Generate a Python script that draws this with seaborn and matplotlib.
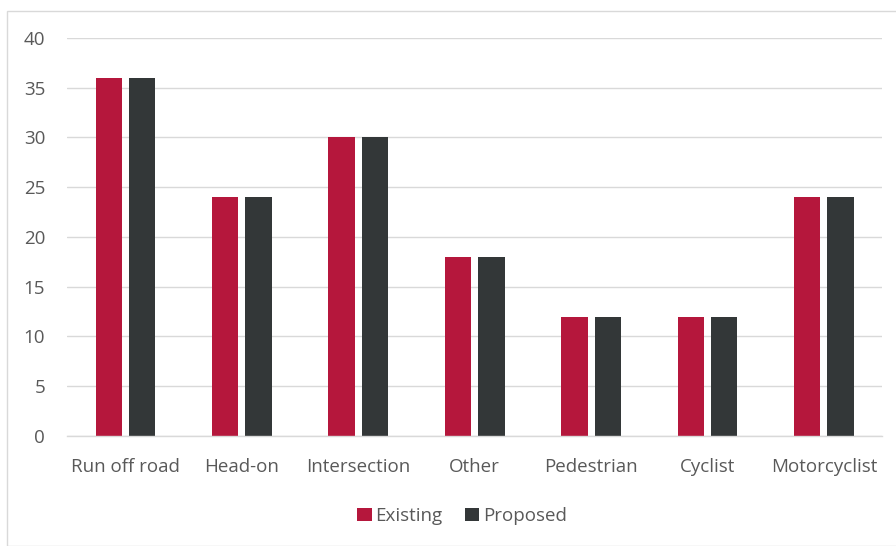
import matplotlib
matplotlib.use("Agg")
import matplotlib.pyplot as plt
import seaborn as sns
import pandas as pd
from matplotlib.patches import Rectangle

categories = ["Run off road", "Head-on", "Intersection", "Other", "Pedestrian", "Cyclist", "Motorcyclist"]
existing = [36, 24, 30, 18, 12, 12, 24]
proposed = [36, 24, 30, 18, 12, 12, 24]
series_names = ["Existing", "Proposed"]
yticks = [0, 5, 10, 15, 20, 25, 30, 35, 40]

df = pd.DataFrame({
    "category": categories * 2,
    "value": existing + proposed,
    "series": [series_names[0]] * len(categories) + [series_names[1]] * len(categories),
})

sns.set_theme(style="white")
plt.rcParams['font.family'] = ['Open Sans', 'DejaVu Sans']

fig = plt.figure(figsize=(8.96, 5.46), dpi=100)
ax = fig.add_axes([0.0752, 0.2015, 0.9092, 0.7289])

palette = {"Existing": "#B5173C", "Proposed": "#333738"}
sns.barplot(data=df, x="category", y="value", hue="series", palette=palette,
            width=0.574, gap=0.21, ax=ax, saturation=1, linewidth=0, legend=True)

ax.set_ylim(0, 40)
ax.set_xlim(-0.5, len(categories) - 0.5)
ax.set_yticks(yticks)
ax.yaxis.grid(True, color="#d9d9d9", linewidth=1)
ax.set_axisbelow(True)
for s in ["top", "right", "left"]:
    ax.spines[s].set_visible(False)
ax.spines["bottom"].set_color("#d9d9d9")
ax.spines["bottom"].set_linewidth(1)
ax.set_xlabel("")
ax.set_ylabel("")
ax.tick_params(axis="y", length=0, pad=16, labelsize=13.5, labelcolor="#595959")
ax.tick_params(axis="x", length=0, pad=16, labelsize=13.5, labelcolor="#595959")

handles, labels = ax.get_legend_handles_labels()
ax.legend(handles, labels, loc="center", bbox_to_anchor=(462 / 896, 1 - 516 / 546), bbox_transform=fig.transFigure,
          ncol=2, frameon=False, fontsize=13.5, labelcolor="#595959",
          handlelength=0.75, handleheight=0.75, handletextpad=0.2, columnspacing=1.2)

fig.patches.append(Rectangle((7 / 896, 0), 1 - 7 / 896 + 0.01, 1 - 11 / 546, transform=fig.transFigure,
                             fill=False, edgecolor="#d9d9d9", linewidth=1, figure=fig))

fig.savefig("out.png", dpi=100)
